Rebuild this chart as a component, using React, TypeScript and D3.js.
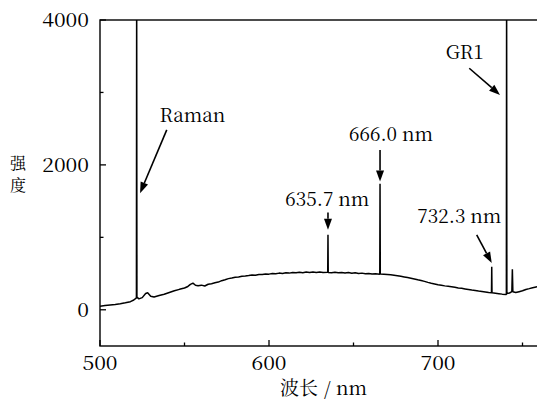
import React from "react";
import * as d3 from "d3";

const wavelengths = [
  500, 503, 506, 509, 512, 515, 518, 520,
  521.55, 521.7, 521.85,
  523, 525, 527, 528.2, 530, 532, 535, 538, 541, 544, 547, 550,
  552, 553.5, 555, 556.5, 558,
  560, 562, 564, 566, 568, 570, 572, 574, 576, 578,
  580, 582, 584, 586, 588, 590, 592, 594, 596, 598,
  600, 602, 604, 606, 608, 610, 612, 614, 616, 618,
  620, 622, 624, 626, 628, 630, 632,
  634.75, 634.9, 635.05,
  637, 639, 641, 643, 645, 647, 649, 651, 653, 655, 657, 659, 661, 663,
  665.55, 665.7, 665.85,
  668, 670, 672, 674, 676, 678, 680, 682, 684, 686,
  688, 690, 692, 694, 696, 698, 700, 702, 704, 706,
  708, 710, 712, 714, 716, 718, 720, 722, 724, 726,
  728, 730,
  731.65, 731.8, 731.95,
  734, 736, 738,
  740.45, 740.6, 740.75,
  742.3, 743.7, 744.0, 744.3,
  746, 748, 750, 752, 754, 756, 758, 760,
];
const intensities = [
  50, 58, 66, 74, 84, 96, 112, 135,
  165, 4700, 175,
  150, 168, 225, 235, 188, 176, 196, 214, 238, 262, 282, 300,
  322, 350, 368, 338, 332,
  340, 328, 352, 360, 372, 382, 402, 415, 430, 438,
  448, 452, 462, 466, 472, 480, 478, 488, 486, 494,
  492, 500, 498, 506, 502, 510, 506, 514, 510, 518,
  512, 520, 514, 522, 516, 520, 514,
  518, 1035, 516,
  512, 518, 510, 516, 508, 514, 504, 510, 500, 506, 498, 502, 494, 498,
  492, 1740, 494,
  490, 486, 482, 476, 470, 462, 454, 446, 436, 426,
  414, 404, 392, 378, 366, 356, 346, 338, 330, 324,
  318, 310, 302, 296, 288, 280, 272, 266, 258, 252,
  246, 240,
  236, 595, 234,
  228, 222, 216,
  210, 4700, 225,
  232, 250, 560, 250,
  238, 250, 262, 280, 292, 305, 315, 325,
];

const xTicksMajor = [500, 600, 700];
const xTicksMinor = [550, 650, 750];
const yTicksMajor = [0, 2000, 4000];
const yTicksMinor = [1000, 3000];

const annotationLabels = ["Raman", "666.0 nm", "635.7 nm", "732.3 nm", "GR1"];
const annotationTextPos = [
  [554.7, 2593],
  [672.2, 2331],
  [634.5, 1434],
  [712.6, 1200],
  [715.8, 3462],
];
const annotationArrowFrom = [
  [539.5, 2483],
  [665.7, 2207],
  [634.9, 1342],
  [722.9, 1034],
  [718.5, 3334],
];
const annotationArrowTo = [
  [523.7, 1610],
  [665.7, 1770],
  [634.9, 1103],
  [731.8, 644],
  [736.7, 2966],
];

const xLabel = ["波长", "/", "nm"];
const yLabel = ["强", "度"];

const W = 537;
const H = 402;
const left = 100;
const right = 539.4;
const top = 20;
const bottom = 346;

const font = '"Noto Serif CJK SC"';
const FS = 19;

export default function App() {
  const x = d3.scaleLinear().domain([500, 760]).range([left, right]);
  const y = d3.scaleLinear().domain([-500, 4000]).range([bottom, top]);
  const data = wavelengths.map((w, i) => [w, intensities[i]] as [number, number]);
  const line = d3
    .line<[number, number]>()
    .x((d) => x(d[0]))
    .y((d) => y(d[1]));

  const stext = (
    key: string,
    px: number,
    py: number,
    txt: string,
    anchor: "start" | "middle" | "end",
    sx: number
  ) => (
    <text
      key={key}
      transform={`translate(${px},${py}) scale(${sx},1)`}
      textAnchor={anchor}
      style={{ fontFamily: font, fontSize: FS }}
    >
      {txt}
    </text>
  );

  const arrow = (i: number) => {
    const [fx, fy] = [x(annotationArrowFrom[i][0]), y(annotationArrowFrom[i][1])];
    const [tx, ty] = [x(annotationArrowTo[i][0]), y(annotationArrowTo[i][1])];
    const ang = Math.atan2(ty - fy, tx - fx);
    const L = 11;
    const hw = 4;
    const bx = tx - L * Math.cos(ang);
    const by = ty - L * Math.sin(ang);
    const p1 = [bx + hw * Math.sin(ang), by - hw * Math.cos(ang)];
    const p2 = [bx - hw * Math.sin(ang), by + hw * Math.cos(ang)];
    return (
      <g key={"a" + i}>
        <line x1={fx} y1={fy} x2={bx} y2={by} stroke="#000" strokeWidth={1.6} />
        <polygon points={`${tx},${ty} ${p1[0]},${p1[1]} ${p2[0]},${p2[1]}`} fill="#000" />
      </g>
    );
  };

  return (
    <svg
      width={W}
      height={H}
      style={{ position: "absolute", left: 0, top: 0, background: "#fff" }}
    >
      <defs>
        <clipPath id="plotclip">
          <rect x={left} y={top} width={right - left} height={bottom - top} />
        </clipPath>
      </defs>
      <rect x={0} y={0} width={W} height={H} fill="#fff" />
      <path
        d={line(data) || ""}
        fill="none"
        stroke="#000"
        strokeWidth={1.5}
        strokeLinejoin="bevel"
        clipPath="url(#plotclip)"
      />
      <rect
        x={left}
        y={top}
        width={right - left}
        height={bottom - top}
        fill="none"
        stroke="#000"
        strokeWidth={1.4}
      />
      {xTicksMajor.map((t) => (
        <line key={"xM" + t} x1={x(t)} x2={x(t)} y1={bottom} y2={bottom - 6} stroke="#000" strokeWidth={1.3} />
      ))}
      {xTicksMinor.map((t) => (
        <line key={"xm" + t} x1={x(t)} x2={x(t)} y1={bottom} y2={bottom - 3.5} stroke="#000" strokeWidth={1.3} />
      ))}
      {yTicksMajor.map((t) => (
        <line key={"yM" + t} x1={left} x2={left + 6} y1={y(t)} y2={y(t)} stroke="#000" strokeWidth={1.3} />
      ))}
      {yTicksMinor.map((t) => (
        <line key={"ym" + t} x1={left} x2={left + 3.5} y1={y(t)} y2={y(t)} stroke="#000" strokeWidth={1.3} />
      ))}
      {xTicksMajor.map((t) => stext("xl" + t, x(t), 370, String(t), "middle", 1.12))}
      {yTicksMajor.map((t) => stext("yl" + t, 89, y(t) + 7, String(t), "end", 1.12))}
      {annotationLabels.map((lab, i) =>
        stext("an" + i, x(annotationTextPos[i][0]), y(annotationTextPos[i][1]), lab, "middle", 1.0)
      )}
      {annotationLabels.map((_, i) => arrow(i))}
      <text x={280} y={395} style={{ fontFamily: font, fontSize: 19 }}>
        {xLabel[0]}
      </text>
      {stext("xlsl", 324, 395, xLabel[1], "start", 1.0)}
      {stext("xlnm", 336, 395, xLabel[2], "start", 1.0)}
      {yLabel.map((c, i) => (
        <text key={"yc" + i} x={18} y={169 + i * 22} textAnchor="middle" style={{ fontFamily: font, fontSize: 16 }}>
          {c}
        </text>
      ))}
    </svg>
  );
}
